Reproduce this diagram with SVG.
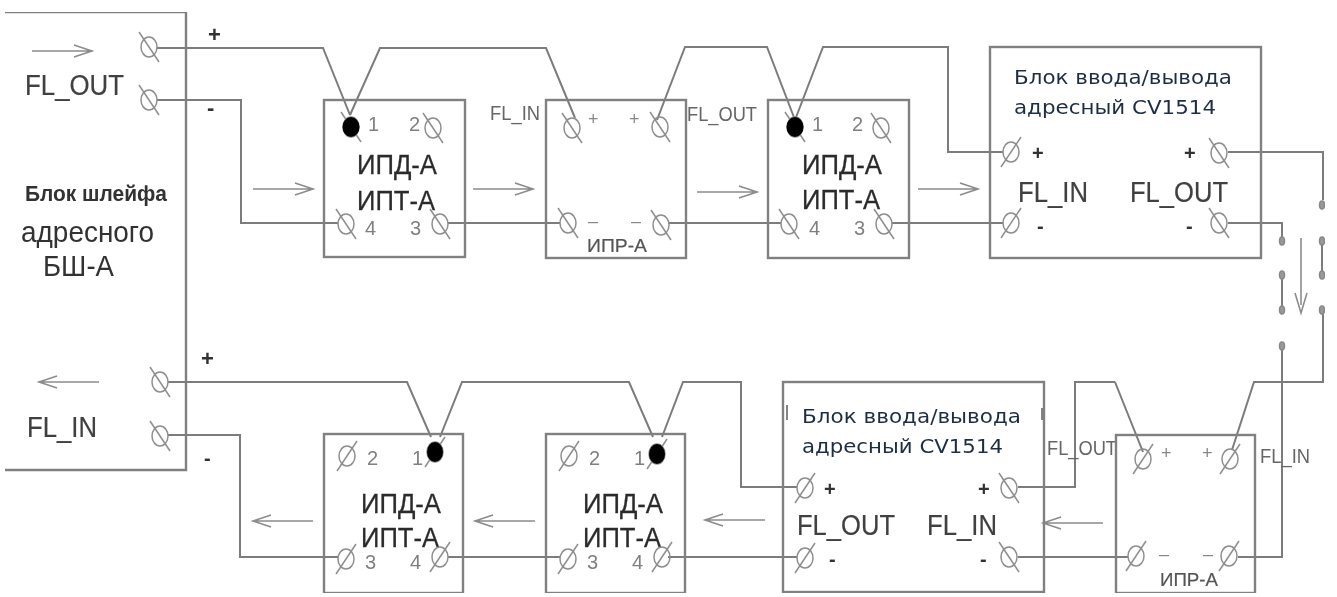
<svg xmlns="http://www.w3.org/2000/svg" width="1337" height="597" viewBox="0 0 1337 597">
<style>
.b{fill:none;stroke:#808080;stroke-width:2.4}
.w{fill:none;stroke:#7c7c7c;stroke-width:2}
.a{fill:none;stroke:#8c8c8c;stroke-width:1.6}
.t{fill:none;stroke:#8e8e8e;stroke-width:1.5}
.d{fill:#000}
text{font-family:"Liberation Sans",Arial,sans-serif;fill:#333}
.big{font-size:28px;fill:#2c2c2c;stroke:#2c2c2c;stroke-width:.3}
.fl{font-size:30px;fill:#404040;stroke:#404040;stroke-width:.2}
.sm{font-size:20px;fill:#666}
.pm{font-size:18px;fill:#888}
.ipr{font-size:19px;fill:#555;stroke:#555;stroke-width:.2}
.num{font-size:20px;fill:#808080}
.blue{font-family:"DejaVu Sans","Open Sans",sans-serif;font-size:20px;fill:#1f2d44}
.bold{font-weight:bold;fill:#333}
</style>
<defs>
<filter id="soft" x="0" y="0" width="100%" height="100%"><feGaussianBlur stdDeviation="0.55"/></filter>
<g id="tb"><ellipse cx="0" cy="0" rx="8" ry="10" class="t"/><line x1="-10" y1="-15" x2="10" y2="15" class="t"/></g>
<g id="tf"><ellipse cx="0" cy="0" rx="8" ry="10" class="t"/><line x1="-10" y1="15" x2="10" y2="-15" class="t"/></g>
<g id="ar"><path d="M-30 0H30M12-6L30 0L12 6" class="a"/></g>
<g id="al"><path d="M30 0H-30M-12-6L-30 0L-12 6" class="a"/></g>
</defs>
<rect width="1337" height="597" fill="#fff"/>
<g filter="url(#soft)">
<g id="connectors">
<path class="w" d="M157 48H323L350 115M350 115L380 48H546L575 118M657 120L685 47H767L795 120M795 120L823 47H948V152H1003"/>
<path class="w" d="M157 100H241V223H338M448 223H560M668 223H781M892 223H1003M1228 152H1323V200M1228 223H1282V237"/>
<path class="w" d="M1322 238V275M1282 275V309M1282 347V557H1238M1323 312V382H1254L1232 450M1115 382L1143 452M1018 487H1075V382H1115"/>
<path class="w" d="M168 382H407L431 437M440 437L462 382H629L653 437M662 437L683 382H741V487H797"/>
<path class="w" d="M168 435H240V557H338M448 557H560M668 557H797M1018 557H1128"/>
</g>
<g id="block-bsh">
<path class="b" d="M5 12H186V470H5"/>
<use href="#ar" x="62" y="51"/>
<text class="fl" x="25" y="95" textLength="99" lengthAdjust="spacingAndGlyphs">FL_OUT</text>
<use href="#tb" x="149" y="47"/><use href="#tb" x="149" y="100"/>
<text class="bold" x="25" y="201" font-size="22" textLength="142" lengthAdjust="spacingAndGlyphs">Блок шлейфа</text>
<text x="21" y="242" font-size="29" fill="#444" textLength="133" lengthAdjust="spacingAndGlyphs">адресного</text>
<text x="43" y="276" font-size="29" textLength="71" lengthAdjust="spacingAndGlyphs">БШ-А</text>
<use href="#al" x="69" y="382"/>
<text class="fl" x="27" y="437" textLength="70" lengthAdjust="spacingAndGlyphs">FL_IN</text>
<use href="#tb" x="160" y="382"/><use href="#tb" x="160" y="436"/>
</g>
<text class="bold" x="208" y="42" font-size="22">+</text>
<text class="bold" x="207" y="115" font-size="22">-</text>
<text class="bold" x="201" y="366" font-size="22">+</text>
<text class="bold" x="204" y="465" font-size="20" fill="#777">-</text>
<use href="#ar" x="283" y="189"/><use href="#ar" x="503" y="189"/><use href="#ar" x="727" y="192"/><use href="#ar" x="948" y="189"/>
<use href="#al" x="283" y="521"/><use href="#al" x="505" y="521"/><use href="#al" x="735" y="520"/><use href="#al" x="1073" y="523"/>
<path class="a" d="M1301 238V305M1295 293L1301 313L1307 293"/>
<g id="ipd-1">
<rect class="b" x="324" y="100" width="141" height="157"/>
<use href="#tb" x="351" y="127"/><ellipse class="d" cx="351" cy="127" rx="8.5" ry="10"/>
<text class="num" x="368" y="131">1</text><text class="num" x="409" y="131">2</text><use href="#tb" x="433" y="128"/>
<text class="big" x="357" y="174" textLength="80" lengthAdjust="spacingAndGlyphs">ИПД-А</text><text class="big" x="357" y="210" textLength="78" lengthAdjust="spacingAndGlyphs">ИПТ-А</text>
<use href="#tb" x="346" y="224"/><text class="num" x="365" y="235">4</text><text class="num" x="410" y="235">3</text><use href="#tb" x="440" y="224"/>
</g>
<g id="ipr-1">
<rect class="b" x="546" y="100" width="140" height="158"/>
<use href="#tb" x="572" y="128"/><text class="pm" x="588" y="125">+</text><text class="pm" x="629" y="125">+</text><use href="#tb" x="660" y="127"/>
<use href="#tb" x="568" y="223"/><text class="pm" x="588" y="227">–</text><text class="pm" x="631" y="227">–</text><use href="#tb" x="661" y="225"/>
<text class="ipr" x="587" y="252" textLength="60" lengthAdjust="spacingAndGlyphs">ИПР-А</text>
</g>
<text class="sm" x="490" y="120" textLength="50" lengthAdjust="spacingAndGlyphs">FL_IN</text>
<text class="sm" x="687" y="121" textLength="70" lengthAdjust="spacingAndGlyphs">FL_OUT</text>
<g id="ipd-2">
<rect class="b" x="768" y="100" width="141" height="158"/>
<use href="#tb" x="795" y="127"/><ellipse class="d" cx="795" cy="127" rx="8.5" ry="10"/>
<text class="num" x="812" y="131">1</text><text class="num" x="852" y="131">2</text><use href="#tb" x="881" y="128"/>
<text class="big" x="802" y="174" textLength="80" lengthAdjust="spacingAndGlyphs">ИПД-А</text><text class="big" x="802" y="209" textLength="78" lengthAdjust="spacingAndGlyphs">ИПТ-А</text>
<use href="#tb" x="789" y="224"/><text class="num" x="809" y="235">4</text><text class="num" x="854" y="235">3</text><use href="#tb" x="884" y="224"/>
</g>
<g id="cv-1">
<rect class="b" x="990" y="47" width="271" height="211"/>
<text class="blue" x="1014" y="84" textLength="218" lengthAdjust="spacingAndGlyphs">Блок ввода/вывода</text>
<text class="blue" x="1014" y="114" textLength="202" lengthAdjust="spacingAndGlyphs">адресный CV1514</text>
<use href="#tf" x="1011" y="152"/><text class="bold" x="1032" y="160" font-size="20">+</text>
<text class="fl" x="1018" y="202" textLength="70" lengthAdjust="spacingAndGlyphs">FL_IN</text>
<text class="fl" x="1130" y="202" textLength="98" lengthAdjust="spacingAndGlyphs">FL_OUT</text>
<use href="#tf" x="1011" y="223"/><text class="bold" x="1037" y="233" font-size="20">-</text>
<text class="bold" x="1184" y="160" font-size="20">+</text><use href="#tb" x="1219" y="153"/>
<text class="bold" x="1186" y="233" font-size="20">-</text><use href="#tb" x="1219" y="223"/>
</g>
<g id="jumper">
<g fill="#999" stroke="#888" stroke-width="1.5">
<ellipse cx="1322" cy="205" rx="2.5" ry="4"/><ellipse cx="1282" cy="241" rx="2.5" ry="4"/><ellipse cx="1322" cy="241" rx="2.5" ry="4"/><ellipse cx="1282" cy="275" rx="2.5" ry="4"/><ellipse cx="1322" cy="275" rx="2.5" ry="4"/><ellipse cx="1282" cy="310" rx="2.5" ry="4"/><ellipse cx="1322" cy="310" rx="2.5" ry="4"/><ellipse cx="1282" cy="346" rx="2.5" ry="4"/>
</g>
</g>
<g id="ipd-3">
<rect class="b" x="324" y="434" width="139" height="159"/>
<use href="#tf" x="347" y="456"/><text class="num" x="367" y="465">2</text><text class="num" x="412" y="465">1</text>
<use href="#tf" x="435" y="452"/><ellipse class="d" cx="435" cy="452" rx="8" ry="10"/>
<text class="big" x="361" y="513" textLength="80" lengthAdjust="spacingAndGlyphs">ИПД-А</text><text class="big" x="361" y="547" textLength="78" lengthAdjust="spacingAndGlyphs">ИПТ-А</text>
<use href="#tf" x="346" y="559"/><text class="num" x="365" y="569">3</text><text class="num" x="410" y="569">4</text><use href="#tf" x="440" y="557"/>
</g>
<g id="ipd-4">
<rect class="b" x="546" y="434" width="139" height="159"/>
<use href="#tf" x="569" y="456"/><text class="num" x="589" y="465">2</text><text class="num" x="634" y="465">1</text>
<use href="#tf" x="657" y="454"/><ellipse class="d" cx="657" cy="454" rx="8" ry="10"/>
<text class="big" x="583" y="513" textLength="80" lengthAdjust="spacingAndGlyphs">ИПД-А</text><text class="big" x="583" y="547" textLength="78" lengthAdjust="spacingAndGlyphs">ИПТ-А</text>
<use href="#tf" x="568" y="559"/><text class="num" x="587" y="569">3</text><text class="num" x="632" y="569">4</text><use href="#tf" x="662" y="557"/>
</g>
<g id="cv-2">
<rect class="b" x="783" y="382" width="261" height="210"/>
<path d="M787 405V420M1042 408V420" fill="none" stroke="#666" stroke-width="1.6"/>
<text class="blue" x="802" y="423" textLength="219" lengthAdjust="spacingAndGlyphs">Блок ввода/вывода</text>
<text class="blue" x="802" y="453" textLength="201" lengthAdjust="spacingAndGlyphs">адресный CV1514</text>
<use href="#tf" x="805" y="488"/><text class="bold" x="824" y="496" font-size="20">+</text>
<text class="fl" x="797" y="535" textLength="98" lengthAdjust="spacingAndGlyphs">FL_OUT</text>
<text class="fl" x="927" y="535" textLength="70" lengthAdjust="spacingAndGlyphs">FL_IN</text>
<use href="#tf" x="805" y="558"/><text class="bold" x="829" y="566" font-size="20">-</text>
<text class="bold" x="978" y="496" font-size="20">+</text><use href="#tb" x="1009" y="488"/>
<text class="bold" x="980" y="566" font-size="20">-</text><use href="#tb" x="1009" y="557"/>
</g>
<text class="sm" x="1047" y="455" textLength="70" lengthAdjust="spacingAndGlyphs">FL_OUT</text>
<text class="sm" x="1260" y="463" textLength="50" lengthAdjust="spacingAndGlyphs">FL_IN</text>
<g id="ipr-2">
<rect class="b" x="1116" y="435" width="139" height="158"/>
<use href="#tf" x="1143" y="459"/><text class="pm" x="1161" y="459">+</text><text class="pm" x="1202" y="459">+</text><use href="#tf" x="1230" y="459"/>
<use href="#tf" x="1136" y="556"/><text class="pm" x="1159" y="560">–</text><text class="pm" x="1203" y="560">–</text><use href="#tf" x="1229" y="556"/>
<text class="ipr" x="1160" y="586" textLength="58" lengthAdjust="spacingAndGlyphs">ИПР-А</text>
</g>
</g>
</svg>
